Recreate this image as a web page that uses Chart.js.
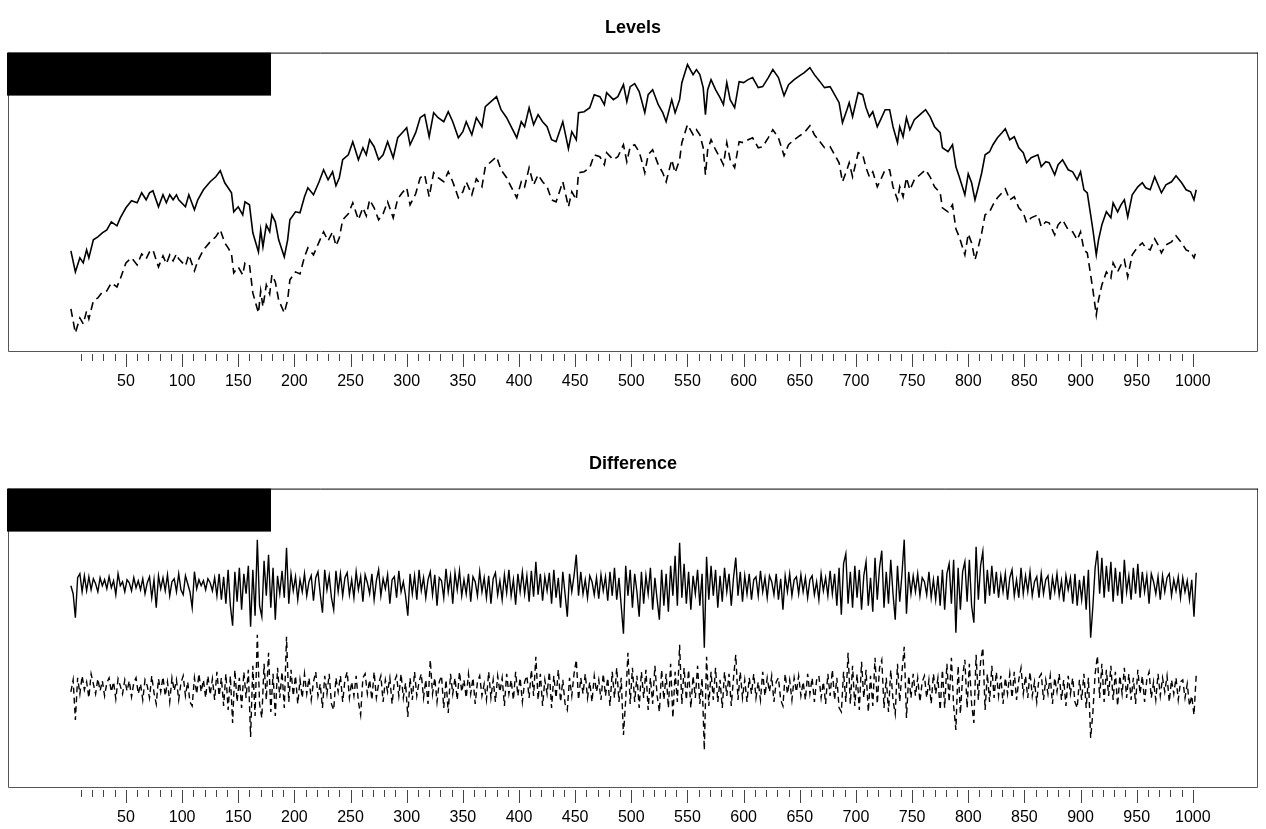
<!DOCTYPE html>
<html>
<head>
<meta charset="utf-8">
<script src="https://cdn.jsdelivr.net/npm/chart.js@4.4.1/dist/chart.umd.min.js"></script>
<style>
  html, body { margin: 0; padding: 0; background: #fff; overflow: hidden; }
  canvas { position: absolute; left: 0; }
  #levels { top: 0; }
  #diff { top: 436px; }
</style>
</head>
<body>
<canvas id="levels" width="1266" height="415"></canvas>
<canvas id="diff" width="1266" height="415"></canvas>
<script>
// x labels on the axis
const tickLabels = [50, 100, 150, 200, 250, 300, 350, 400, 450, 500, 550, 600, 650, 700, 750, 800, 850, 900, 950, 1000];

const levelIdx = [
  1, 5, 9, 12, 15, 17, 21, 25, 29, 33, 37, 42, 45, 50, 55, 60, 64, 68, 71, 74,
  79, 83, 86, 89, 92, 95, 97, 103, 106, 111, 114, 119, 125, 130, 134, 138, 141, 144, 146, 150,
  154, 156, 160, 163, 168, 170, 172, 175, 178, 180, 183, 186, 191, 194, 196, 201, 205, 209, 212, 217,
  222, 226, 230, 234, 237, 240, 243, 248, 252, 257, 261, 264, 267, 271, 275, 279, 283, 288, 292, 296,
  300, 303, 308, 312, 316, 320, 324, 328, 333, 337, 341, 346, 350, 353, 358, 362, 367, 370, 375, 380,
  384, 389, 393, 398, 402, 405, 409, 413, 417, 421, 425, 429, 433, 439, 444, 447, 451, 453, 458, 463,
  467, 472, 476, 478, 484, 488, 493, 496, 499, 503, 507, 509, 512, 515, 519, 524, 528, 531, 536, 539,
  543, 545, 550, 555, 558, 561, 564, 566, 568, 571, 575, 579, 582, 585, 588, 592, 596, 600, 604, 608,
  613, 617, 622, 626, 631, 636, 640, 645, 650, 654, 659, 663, 668, 672, 677, 681, 685, 688, 692, 694,
  697, 702, 706, 709, 712, 715, 719, 722, 726, 730, 733, 737, 739, 742, 745, 748, 752, 757, 762, 766,
  770, 775, 777, 782, 786, 789, 792, 797, 800, 803, 806, 809, 812, 815, 819, 822, 826, 830, 833, 837,
  841, 845, 849, 852, 856, 862, 865, 869, 872, 877, 880, 884, 889, 893, 897, 900, 903, 906, 909, 911,
  914, 916, 919, 923, 927, 929, 933, 936, 939, 942, 946, 951, 955, 958, 962, 966, 969, 972, 976, 981,
  985, 990, 994, 998, 1001, 1003
];
const levelSolid = [
  100, 79, 93, 88, 101, 93, 111, 114, 118, 121, 129, 125, 133, 143, 150, 148, 158, 151, 158, 160,
  144, 156, 148, 156, 151, 156, 151, 144, 156, 141, 151, 161, 169, 174, 180, 168, 163, 158, 139, 144,
  136, 149, 146, 118, 99, 121, 104, 126, 119, 136, 129, 111, 94, 111, 131, 139, 138, 154, 163, 156,
  169, 181, 171, 179, 165, 173, 191, 196, 209, 191, 203, 196, 211, 204, 191, 196, 209, 193, 213, 218,
  223, 206, 218, 233, 236, 214, 238, 233, 229, 239, 229, 213, 219, 229, 216, 233, 224, 244, 249, 254,
  241, 233, 224, 213, 229, 224, 243, 226, 236, 229, 224, 211, 209, 229, 202, 219, 211, 238, 239, 243,
  256, 254, 246, 258, 251, 254, 266, 249, 264, 267, 259, 251, 238, 256, 261, 246, 238, 229, 251, 238,
  251, 268, 286, 276, 281, 276, 263, 236, 261, 271, 261, 253, 246, 268, 251, 243, 269, 268, 271, 273,
  263, 264, 273, 281, 273, 255, 266, 271, 275, 278, 283, 276, 269, 263, 264, 256, 248, 228, 241, 248,
  234, 258, 256, 243, 234, 239, 224, 231, 241, 241, 224, 208, 224, 214, 233, 221, 231, 236, 241, 234,
  224, 218, 203, 199, 206, 184, 174, 156, 177, 168, 151, 164, 178, 196, 199, 206, 213, 218, 222, 211,
  214, 203, 198, 188, 193, 196, 184, 189, 188, 176, 186, 191, 181, 179, 171, 179, 161, 158, 136, 121,
  96, 111, 126, 139, 133, 148, 139, 146, 151, 134, 156, 164, 168, 163, 161, 174, 166, 158, 166, 169,
  175, 168, 161, 159, 151, 161
];
const levelDashed = [
  42, 18, 33, 27, 40, 32, 50, 53, 59, 60, 68, 64, 72, 88, 93, 86, 97, 92, 99, 101,
  84, 95, 87, 96, 90, 97, 92, 85, 96, 80, 90, 101, 109, 114, 121, 108, 103, 97, 78, 84,
  76, 88, 86, 58, 38, 60, 44, 66, 57, 76, 69, 51, 38, 51, 71, 79, 77, 94, 103, 96,
  109, 119, 110, 119, 105, 113, 131, 137, 148, 131, 143, 135, 151, 143, 131, 137, 149, 133, 152, 158,
  163, 146, 157, 173, 176, 154, 178, 173, 169, 179, 169, 153, 159, 169, 156, 172, 164, 184, 189, 194,
  181, 173, 164, 153, 169, 164, 183, 166, 176, 169, 164, 151, 149, 169, 144, 159, 151, 178, 179, 183,
  196, 194, 186, 198, 191, 194, 206, 189, 204, 206, 199, 191, 178, 196, 201, 186, 178, 169, 191, 178,
  191, 208, 226, 216, 221, 216, 203, 176, 201, 211, 201, 193, 186, 208, 191, 183, 209, 208, 211, 213,
  203, 204, 213, 221, 213, 195, 206, 211, 215, 218, 225, 216, 209, 203, 204, 196, 188, 169, 181, 188,
  174, 198, 196, 183, 174, 179, 164, 171, 181, 181, 164, 151, 164, 154, 173, 161, 171, 176, 181, 174,
  164, 158, 143, 139, 146, 122, 114, 96, 117, 108, 91, 104, 118, 136, 139, 146, 153, 158, 162, 151,
  154, 143, 138, 128, 133, 136, 124, 129, 128, 116, 126, 131, 121, 119, 111, 119, 101, 98, 76, 61,
  36, 51, 66, 79, 73, 88, 79, 86, 91, 74, 96, 104, 108, 103, 101, 112, 106, 98, 106, 109,
  115, 108, 101, 99, 93, 100
];

// Difference: one value every diffStep observations, starting at diffStart
const diffStart = 1;
const diffStep = 2;
const diffSolid = [
  0, -8, -32, 8, 12, -6, 10, -5, 9, -4, 7, 2, -6, 8, 0, 6, -3, 9, -2, 5, -9, 12, 0, 4, -6,
  6, 3, -5, 8, -2, 5, -4, 7, -8, 3, 9, -12, 6, -22, 10, -3, 8, -5, 11, -10, 4, 7, -6, 12, -4,
  -9, 10, 2, -6, -22, 14, -3, 6, 0, 5, -4, 7, 3, -5, 8, -10, 12, -14, 9, -18, 16, -20, -40, 14, -16,
  18, -24, 12, -8, 20, -41, 16, -30, 46, -20, -31, 25, -10, 31, -22, 18, -34, 10, -8, 15, -12, 38, -18, 12, -5,
  9, -14, 6, -6, 12, -10, 4, 10, -15, 8, 14, -8, -27, 16, -4, 10, -12, -24, 15, -6, 12, -10, 8, 13, -9,
  6, -12, 14, -4, 9, -16, 11, 3, -8, 12, -14, 5, 16, -10, 7, -3, 11, -18, 6, 9, -12, 15, -6, 4, -10,
  -30, 12, -8, 10, -14, 16, -5, 8, -12, 6, 14, -9, 11, -20, 8, 5, -12, 17, -6, 10, -18, 13, -4, 15, -10,
  6, -8, 12, -16, 9, 4, -10, 14, -6, 8, -12, 10, -18, 7, 13, -9, 5, -14, 11, -7, 16, -10, 6, -19, 12,
  -6, 14, -8, 10, -16, 15, -11, 24, -9, 12, -15, 9, -5, 13, -18, 16, -12, 8, -22, 14, -8, -31, 12, -6, 10,
  31, -10, 14, -8, 6, -12, 10, 4, -9, 8, -13, 11, -5, 9, -15, 14, -10, 18, -14, 8, -20, -48, 20, -10, 16,
  -22, 12, -6, -31, 14, -18, 10, -8, 18, -24, 8, -14, -34, 16, -20, 12, -26, 20, -10, 30, -20, 43, -12, 22, -18,
  14, -24, 10, -8, 16, -20, 12, -62, 29, -14, 20, -10, 16, -22, 10, -16, 18, -6, 12, -20, 8, 28, -10, 14, -16,
  10, -8, 12, -14, 6, 9, -10, 15, -6, 8, -12, 10, 4, -9, 12, -14, 7, -24, 10, -6, 12, -10, 6, 9, -8,
  11, -6, 8, -12, 6, 10, -9, 4, -14, 12, -5, 8, -10, 15, -8, 12, -20, 18, -29, 22, 32, -18, 14, -22, 20,
  -12, 16, -24, 10, 24, -20, 8, -26, 28, -14, 18, 35, -22, 14, -18, 26, -8, -34, 20, -16, 12, 46, -28, 14, -8,
  10, -6, 12, -10, 8, 4, -9, 14, -12, 6, -14, 10, -20, 16, -24, 12, 22, -18, 26, -47, 18, -24, 14, 24, -16,
  26, -20, -37, 39, -14, 20, 34, -18, 16, -10, 20, -8, 14, -12, 10, -6, 12, -14, 8, 16, -10, 6, -12, 18, -8,
  10, -6, 14, -10, 4, 9, -12, 12, -8, 6, 10, -14, 8, -6, 12, -10, 5, -16, 10, -4, 8, -18, 12, -20, 6,
  -14, 10, -24, 16, -52, -20, 18, 35, -8, 28, -12, 20, -6, 24, -16, 18, -10, 14, -18, 26, -6, 10, -14, 18, -8,
  22, -12, 14, -6, 10, -18, 12, 4, -8, 9, -14, 10, -6, 8, 12, -10, 6, -5, 9, -12, 8, -6, 5, -14, 6,
  -31, 13
];
const diffDashed = [
  -4, 8, -32, 10, -6, 12, -2, 6, -10, 14, 4, -6, 9, -3, 7, -8, 5, 10, -4, 6, -11, 9, 2, -6, 8,
  -3, 7, -9, 5, 10, -6, 4, -12, 8, 2, -10, 12, -5, -16, 9, -4, 11, -8, 6, -14, 10, -3, 8, -12, 5,
  12, -8, 6, -14, -18, 10, -6, 14, -4, 8, -10, 12, -7, 9, -12, 16, -8, 10, -18, 14, -22, 12, -35, 18, -14,
  10, -20, 16, -10, 18, -49, 22, -28, 53, -16, -30, 24, -12, 35, -24, 14, -28, 20, -10, 16, -20, 51, -14, 18, -8,
  12, -16, 8, -10, 14, -6, 10, -12, 6, 16, -8, 4, -20, 12, -6, 14, -16, -22, 10, -4, 12, -14, 8, 16, -10,
  6, -8, 12, -14, -27, 10, 14, -6, 8, -12, 16, -10, 4, 12, -14, 8, -4, 10, -16, 6, 12, -8, 14, -10, 5,
  -29, 10, -12, 16, -8, 6, 14, -10, 8, -16, 28, -6, 10, -14, 6, 12, -20, 8, -25, 14, -6, 10, -12, 16, -4,
  8, -10, 14, -6, 10, -16, 6, 12, -8, 4, -12, 16, -10, 8, -14, 12, -4, 10, -18, 14, -6, 8, -12, 16, -8,
  10, -14, 6, 12, -10, 18, -8, 31, -12, 14, -18, 8, -6, 16, -20, 12, -10, 18, -14, 8, -16, -22, 10, -8, 14,
  28, -12, 10, -6, 14, -10, 6, -14, 12, -4, 8, -12, 14, -8, 10, -18, 16, -10, 20, -14, 10, -47, -12, 35, -16,
  20, -14, 12, -20, 16, -10, 18, -22, 10, -16, 22, -8, -24, 18, -12, 14, -20, 24, -30, 16, -14, 43, -16, 20, -12,
  18, -20, 12, -10, 22, -16, 10, -62, 31, -18, 16, -12, 20, -14, 8, -20, 16, -8, 14, -18, 10, 33, -12, 16, -10,
  8, -14, 10, -6, 14, -10, 6, -12, 16, -8, 10, -4, 12, -14, 6, 10, -12, -18, 14, -6, 8, -12, 10, -4, 12,
  -8, 6, -12, 14, -6, 10, -14, 8, 12, -10, 6, -16, 14, -8, 18, -12, 10, -20, -24, 16, -14, 35, -16, 22, -18,
  14, -22, 26, -10, 18, -24, 12, -18, 30, -16, 20, 28, -20, 10, -24, 18, -12, -26, 24, -14, 16, 41, -30, 12, -10,
  14, -8, 10, -14, 6, 12, -10, 8, -16, 14, -6, 10, -22, 18, -20, 24, -14, 30, -18, -42, 22, -26, 12, 28, -20,
  24, -16, -35, 33, -12, 26, 40, -22, 14, -14, 22, -10, 16, -8, 12, -16, 10, -6, 14, -10, 16, -12, 8, 20, -6,
  12, -10, 16, -8, 6, -14, 10, 14, -12, 8, -6, 12, -16, 10, -4, 14, -12, 8, -18, 12, -6, 10, -14, -20, 8,
  -12, 14, -20, 10, -50, -24, 14, 32, -10, 24, -14, 18, -8, 22, -12, 16, -18, 12, -6, 20, -10, 14, -12, 10, -16,
  18, -6, 12, -14, 8, 16, -10, 6, -12, 14, -8, 10, -4, 12, -14, 8, -6, 10, -12, 6, 8, -10, 4, -18, -8,
  -27, 13
];

const fontFamily = '"Liberation Sans", Arial, sans-serif';

// box around the plot, the blacked-out legend and the small/large tick marks
const frame = {
  id: 'frame',
  afterDatasetsDraw(chart) {
    const { ctx, chartArea: a } = chart;
    const x = chart.scales.x;
    ctx.save();
    ctx.lineWidth = 1;
    ctx.strokeStyle = '#555';
    ctx.beginPath();
    ctx.moveTo(a.left + 0.5, a.top);
    ctx.lineTo(a.left + 0.5, a.bottom + 0.5);
    ctx.lineTo(a.right - 0.5, a.bottom + 0.5);
    ctx.lineTo(a.right - 0.5, a.top);
    ctx.stroke();
    ctx.strokeStyle = '#000';
    ctx.beginPath();
    ctx.moveTo(a.left, a.top + 0.5);
    ctx.lineTo(a.right, a.top + 0.5);
    ctx.stroke();

    ctx.fillStyle = '#000';
    ctx.fillRect(a.left - 1, a.top, 264, 43);

    ctx.strokeStyle = '#444';
    ctx.beginPath();
    for (let v = 10; v <= 1000; v += 10) {
      const px = Math.round(x.getPixelForValue(v)) + 0.5;
      const len = v % 50 === 0 ? 13 : 7;
      ctx.moveTo(px, a.bottom + 3);
      ctx.lineTo(px, a.bottom + 3 + len);
    }
    ctx.stroke();
    ctx.restore();
  }
};

const xAxis = () => ({
  type: 'linear',
  min: -55,
  max: 1058,
  afterBuildTicks: (s) => { s.ticks = tickLabels.map(v => ({ value: v })); },
  afterFit: (s) => { s.height = 64; },
  grid: { display: false, drawTicks: false },
  border: { display: false },
  ticks: {
    color: '#000',
    padding: 21,
    maxRotation: 0,
    autoSkip: false,
    font: { family: fontFamily, size: 16 },
    callback: (v) => String(v)
  }
});

const titleOpts = (text) => ({
  display: true,
  text,
  color: '#000',
  font: { family: fontFamily, size: 18, weight: 'bold' },
  padding: { top: 17, bottom: 14 }
});

const baseOpts = {
  responsive: false,
  animation: false,
  devicePixelRatio: 1,
  layout: { padding: { left: 8, right: 8, top: 0, bottom: 0 } },
  elements: { point: { radius: 0 }, line: { tension: 0 } },
};

new Chart(document.getElementById('levels'), {
  type: 'line',
  data: {
    datasets: [
      {
        data: levelIdx.map((x, k) => ({ x, y: levelSolid[k] })),
        borderColor: '#000',
        borderWidth: 1.6
      },
      {
        data: levelIdx.map((x, k) => ({ x, y: levelDashed[k] })),
        borderColor: '#000',
        borderWidth: 1.6,
        borderDash: [8, 5]
      }
    ]
  },
  options: {
    ...baseOpts,
    plugins: { legend: { display: false }, tooltip: { enabled: false }, title: titleOpts('Levels') },
    scales: {
      x: xAxis(),
      y: { display: false, min: 0, max: 298 }
    }
  },
  plugins: [frame]
});

new Chart(document.getElementById('diff'), {
  type: 'line',
  data: {
    datasets: [
      {
        data: diffSolid.map((y, k) => ({ x: diffStart + k * diffStep, y })),
        borderColor: '#000',
        borderWidth: 1.4,
        yAxisID: 'ySolid'
      },
      {
        data: diffDashed.map((y, k) => ({ x: diffStart + k * diffStep, y })),
        borderColor: '#000',
        borderWidth: 1.4,
        borderDash: [6, 4],
        yAxisID: 'yDash'
      }
    ]
  },
  options: {
    ...baseOpts,
    plugins: { legend: { display: false }, tooltip: { enabled: false }, title: titleOpts('Difference') },
    scales: {
      x: xAxis(),
      ySolid: { display: false, min: -201, max: 97 },
      yDash: { display: false, min: -99, max: 199 }
    }
  },
  plugins: [frame]
});
</script>
</body>
</html>
